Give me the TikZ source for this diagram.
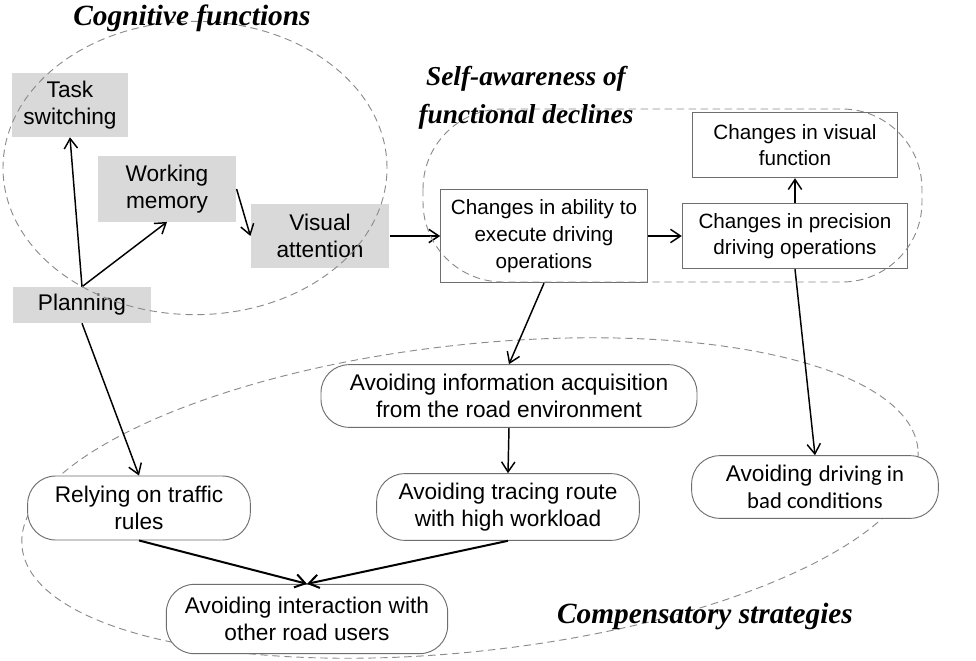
\documentclass[tikz,border=0pt]{standalone}
\usepackage{fontspec}
\setmainfont{Liberation Serif}
\newfontfamily\labelfont{Liberation Sans}
\newfontfamily\noteface{Carlito}
\usepackage{xcolor}
\usetikzlibrary{arrows.meta}

\definecolor{boxgray}{HTML}{D9D9D9}
\definecolor{dashgray}{HTML}{8C8C8C}
\definecolor{rimgray}{HTML}{6E6E6E}

\begin{document}
\begin{tikzpicture}[x=0.75pt,y=-0.75pt,
    cogbox/.style={fill=boxgray, align=center, inner sep=0pt,
        font=\labelfont\fontsize{17}{20}\selectfont},
    declinebox/.style={draw=rimgray, line width=0.8pt, fill=white, align=center, inner sep=0pt,
        font=\labelfont\fontsize{15.5}{20}\selectfont},
    strategybox/.style={draw=rimgray, line width=0.7pt, fill=white, rounded corners=21pt,
        align=center, inner sep=0pt, font=\labelfont\fontsize{17}{20}\selectfont},
    grouptitle/.style={align=center, inner sep=0pt,
        font=\bfseries\itshape\fontsize{22}{28}\selectfont},
    groupline/.style={draw=dashgray, line width=0.7pt, dash pattern=on 5.5pt off 3.5pt},
    link/.style={line width=1.1pt, -{Straight Barb[length=7.5pt,width=10pt]}}]
    \useasboundingbox (0,0) rectangle (976,661);
    \fill[white] (0,0) rectangle (976,661);
    % compensatory strategies (behind the boxes)
    \draw[groupline, rotate around={6.3:(470,498)}] (470,498) ellipse [x radius=338pt, y radius=115pt];
    % cognitive functions
    \node[cogbox, minimum width=87pt, minimum height=48pt] (task) at (70,105) {Task\\switching};
    \node[cogbox, minimum width=104pt, minimum height=49pt] (wm) at (167,189) {Working\\memory};
    \node[cogbox, minimum width=104pt, minimum height=48pt] (va) at (320,236) {Visual\\attention};
    \node[cogbox, minimum width=104pt, minimum height=27pt] (plan) at (82,305) {Planning};
    % functional declines
    \node[declinebox, minimum width=155pt, minimum height=70pt] (abil) at (544,236) {Changes in ability to\\execute driving\\operations};
    \node[declinebox, minimum width=169pt, minimum height=49pt] (prec) at (795,236) {Changes in precision\\driving operations};
    \node[declinebox, minimum width=154pt, minimum height=49pt] (vf) at (795,145) {Changes in visual\\function};
    % compensatory strategies
    \node[strategybox, minimum width=282pt, minimum height=47pt] (info) at (509,396) {Avoiding information acquisition\\from the road environment};
    \node[strategybox, minimum width=197pt, minimum height=50pt] (trace) at (508,507) {Avoiding tracing route\\with high workload};
    \node[strategybox, minimum width=167pt, minimum height=48pt] (rely) at (139,508) {Relying on traffic\\rules};
    \node[strategybox, minimum width=185pt, minimum height=47pt] (drive) at (815,487) {Avoiding {\noteface\fontsize{17}{20}\selectfont driving in}\\{\noteface\fontsize{17}{20}\selectfont bad conditions}};
    \node[strategybox, minimum width=211pt, minimum height=52pt] (inter) at (307,619) {Avoiding interaction with\\other road users};
    % links
    \draw[link] (plan.north) -- (task.south);
    \draw[link] (plan.north) -- (wm.south);
    \draw[link] (wm.east) -- (va.west);
    \draw[link] (va.east) -- (abil.west);
    \draw[link] (abil.east) -- (prec.west);
    \draw[link] (prec.north) -- (vf.south);
    \draw[link] (abil.south) -- (info.north);
    \draw[link] (prec.south) -- (drive.north);
    \draw[link] (info.south) -- (trace.north);
    \draw[link] (plan.south) -- (rely.north);
    \draw[link, line width=1.5pt] (rely.south) -- (inter.north);
    \draw[link, line width=1.5pt] (trace.south) -- (inter.north);
    % groups drawn over their boxes
    \draw[groupline] (195,168) ellipse [x radius=144pt, y radius=110pt];
    \draw[groupline, rounded corners=60pt] (423,109) rectangle (922,282);
    \node[grouptitle] (cogtitle) at (192,18) {Cognitive functions};
    \node[grouptitle, font=\bfseries\itshape\fontsize{20.5}{28.5}\selectfont] (selftitle) at (526,98) {Self-awareness of\\functional declines};
    \node[grouptitle] (comptitle) at (705,616) {Compensatory strategies};
\end{tikzpicture}
\end{document}
